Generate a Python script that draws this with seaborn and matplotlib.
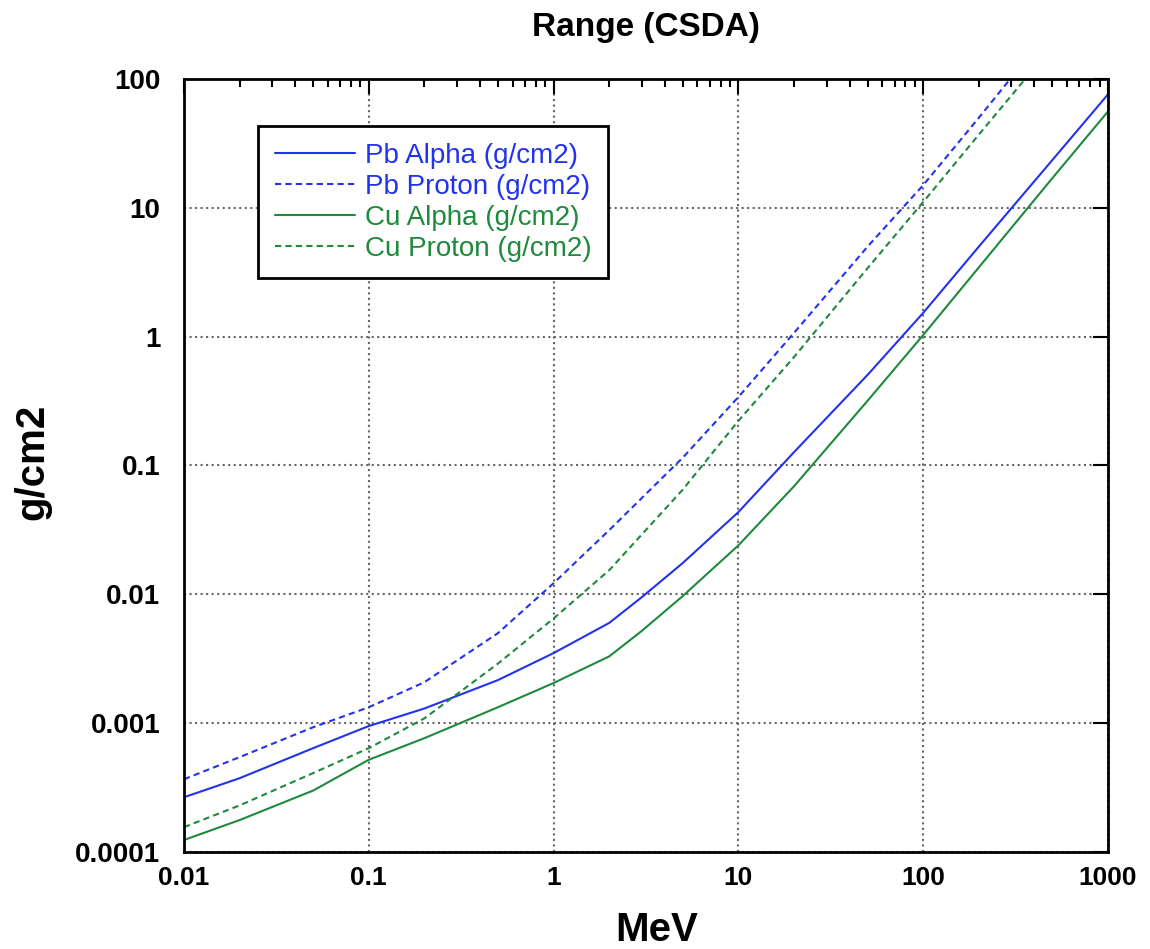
import numpy as np
import pandas as pd
import seaborn as sns
import matplotlib.pyplot as plt
from matplotlib.ticker import NullLocator, LogLocator

# energies (MeV) and CSDA range (g/cm2)
pb_alpha_e = [0.01, 0.02, 0.05, 0.1, 0.2, 0.5, 1, 2, 3, 5, 10, 20, 50, 100, 200, 500, 1000]
pb_alpha_r = [2.66e-4, 3.74e-4, 6.4e-4, 9.5e-4, 1.3e-3, 2.16e-3, 3.5e-3, 6.0e-3, 9.5e-3,
              0.0175, 0.0435, 0.127, 0.505, 1.53, 5.0, 23.5, 76]

pb_proton_e = [0.01, 0.02, 0.05, 0.1, 0.2, 0.5, 1, 2, 5, 10, 20, 50, 100, 200, 320]
pb_proton_r = [3.67e-4, 5.45e-4, 9.3e-4, 1.33e-3, 2.08e-3, 5.0e-3, 0.0122, 0.0315, 0.115,
               0.34, 1.07, 5.0, 15, 50, 115]

cu_alpha_e = [0.01, 0.02, 0.05, 0.1, 0.2, 0.5, 1, 2, 3, 5, 10, 20, 50, 100, 200, 500, 1000]
cu_alpha_r = [1.24e-4, 1.77e-4, 3.0e-4, 5.2e-4, 7.65e-4, 1.33e-3, 2.05e-3, 3.3e-3, 5.2e-3,
              9.7e-3, 0.024, 0.069, 0.318, 1.03, 3.45, 17, 56]

cu_proton_e = [0.01, 0.02, 0.05, 0.1, 0.2, 0.5, 1, 2, 5, 10, 20, 50, 100, 200, 400]
cu_proton_r = [1.56e-4, 2.3e-4, 4.1e-4, 6.4e-4, 1.09e-3, 2.9e-3, 6.5e-3, 0.0154, 0.065,
               0.222, 0.695, 3.4, 11.1, 37, 122]

labels = ['Pb Alpha (g/cm2)', 'Pb Proton (g/cm2)', 'Cu Alpha (g/cm2)', 'Cu Proton (g/cm2)']
x_ticks = [0.01, 0.1, 1, 10, 100, 1000]
x_ticklabels = ['0.01', '0.1', '1', '10', '100', '1000']
y_ticks = [0.0001, 0.001, 0.01, 0.1, 1, 10, 100]
y_ticklabels = ['0.0001', '0.001', '0.01', '0.1', '1', '10', '100']

blue = '#2233ee'
green = '#1e8a3c'

frames = []
for lab, e, r in zip(labels,
                     [pb_alpha_e, pb_proton_e, cu_alpha_e, cu_proton_e],
                     [pb_alpha_r, pb_proton_r, cu_alpha_r, cu_proton_r]):
    frames.append(pd.DataFrame({'MeV': e, 'range': r, 'series': lab}))
df = pd.concat(frames, ignore_index=True)

sns.set_style('white')
plt.rcParams['font.family'] = ['Liberation Sans', 'DejaVu Sans']
plt.rcParams['text.color'] = 'black'
plt.rcParams['xtick.color'] = 'black'
plt.rcParams['ytick.color'] = 'black'
plt.rcParams['axes.labelcolor'] = 'black'

fig = plt.figure(figsize=(11.5, 9.49), dpi=100)
ax = fig.add_axes([0.16, 0.1022, 0.8035, 0.8146])

palette = {labels[0]: blue, labels[1]: blue, labels[2]: green, labels[3]: green}
dashes = {labels[0]: '', labels[1]: (3, 2), labels[2]: '', labels[3]: (3, 2)}
sns.lineplot(data=df, x='MeV', y='range', hue='series', style='series',
             palette=palette, dashes=dashes, hue_order=labels, style_order=labels,
             estimator=None, sort=False, linewidth=1.5, ax=ax)

ax.set_xscale('log')
ax.set_yscale('log')
ax.set_xlim(0.01, 1000)
ax.set_ylim(0.0001, 100)
ax.set_xticks(x_ticks)
ax.set_xticklabels(x_ticklabels)
ax.set_yticks(y_ticks)
ax.set_yticklabels(y_ticklabels)
ax.xaxis.set_minor_locator(LogLocator(base=10, subs=np.arange(2, 10)))
ax.yaxis.set_minor_locator(NullLocator())

ax.tick_params(which='both', direction='in', top=True, right=True, width=1.5, colors='black')
ax.tick_params(which='major', length=11)
ax.tick_params(which='minor', length=6)
ax.tick_params(axis='x', which='major', pad=10, labelsize=19)
ax.tick_params(axis='y', which='major', pad=17, labelsize=20)
for t in ax.get_xticklabels() + ax.get_yticklabels():
    t.set_fontweight('bold')
    t.set_color('black')

ax.grid(True, which='major', color='#666666', linestyle=':', linewidth=1.5)
ax.set_axisbelow(True)
for s in ax.spines.values():
    s.set_color('black')
    s.set_linewidth(2)

ax.set_xlabel('')
ax.set_ylabel('')
fig.text(0.5617, 0.9705, 'Range (CSDA)', ha='center', va='center', fontsize=24,
         fontweight='bold', color='black')
fig.text(0.571, 0.02, 'MeV', ha='center', va='center', fontsize=29, fontweight='bold',
         color='black')
fig.text(0.028, 0.513, 'g/cm2', ha='center', va='center', rotation=90, fontsize=29,
         fontweight='bold', color='black')

leg = ax.legend(loc='upper left', bbox_to_anchor=(0.08, 0.939), borderaxespad=0,
                fontsize=20, labelcolor='linecolor', handlelength=2.9, handletextpad=0.35,
                labelspacing=0.18, borderpad=0.6, fancybox=False, framealpha=1,
                edgecolor='black')
leg.get_frame().set_linewidth(2)

fig.savefig('out.png', dpi=100)
